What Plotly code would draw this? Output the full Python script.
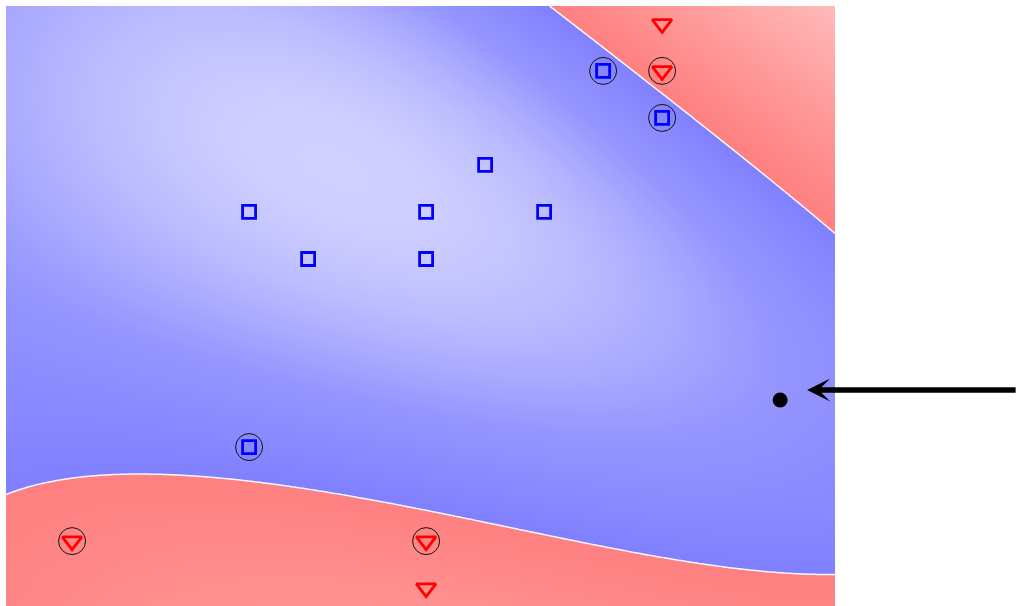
import numpy as np
import plotly.graph_objects as go

# training points (class +1 = blue squares, class -1 = red triangles)
blue_x = [1, -3, 0, 2, -2, 0]
blue_y = [2, 1, 1, 1, 0, 0]
red_x = [4, 0]
red_y = [5, -7]

# support vectors (circled)
sv_x = [3, 4, -3, 4, -6, 0]
sv_y = [4, 3, -4, 4, -6, -6]
sv_lab = [1, 1, 1, -1, -1, -1]

# query point
query_x = [6]
query_y = [-3]

gamma = 0.008

# RBF SVM on the support vectors: y_i * f(x_i) = 1, sum(alpha_i * y_i) = 0
P = np.c_[sv_x, sv_y].astype(float)
lab = np.array(sv_lab, float)
n = len(lab)
K = np.exp(-gamma * ((P[:, None, :] - P[None, :, :]) ** 2).sum(-1))
A = np.zeros((n + 1, n + 1))
A[:n, :n] = K * lab[None, :]
A[:n, n] = 1
A[n, :n] = lab
sol = np.linalg.solve(A, np.r_[lab, 0])
alpha, b = sol[:n], sol[n]

gx = np.linspace(-7.12, 6.93, 300)
gy = np.linspace(-7.38, 5.38, 240)
X, Y = np.meshgrid(gx, gy)
F = b + sum(alpha[i] * lab[i] * np.exp(-gamma * ((X - P[i, 0]) ** 2 + (Y - P[i, 1]) ** 2))
            for i in range(n))

fmin, fmax = F.min(), F.max()
p0 = -fmin / (fmax - fmin)
cscale = [[0, 'rgb(255,186,186)'], [p0, 'rgb(255,128,128)'],
          [p0, 'rgb(128,128,255)'], [p0 + 0.45 * (1 - p0), 'rgb(150,150,255)'],
          [1, 'rgb(209,209,255)']]

fig = go.Figure()
fig.add_trace(go.Heatmap(x=gx, y=gy, z=F, colorscale=cscale, zmin=fmin, zmax=fmax,
                         zsmooth='best', showscale=False, hoverinfo='skip'))
# decision boundary f = 0
fig.add_trace(go.Contour(x=gx, y=gy, z=F, contours=dict(start=0, end=0, size=1, coloring='none'),
                         line=dict(color='rgba(255,255,255,0.95)', width=1.5),
                         showscale=False, hoverinfo='skip'))

# circles round the support vectors
fig.add_trace(go.Scatter(x=sv_x, y=sv_y, mode='markers',
                         marker=dict(symbol='circle-open', size=27, color='#111',
                                     line=dict(width=1, color='#111'))))

sq_x = blue_x + [x for x, l in zip(sv_x, sv_lab) if l > 0]
sq_y = blue_y + [y for y, l in zip(sv_y, sv_lab) if l > 0]
tr_x = red_x + [x for x, l in zip(sv_x, sv_lab) if l < 0]
tr_y = red_y + [y for y, l in zip(sv_y, sv_lab) if l < 0]

fig.add_trace(go.Scatter(x=sq_x, y=sq_y, mode='markers',
                         marker=dict(symbol='square-open', size=13, color='#0000ff',
                                     line=dict(width=2.8, color='#0000ff'))))
fig.add_trace(go.Scatter(x=tr_x, y=tr_y, mode='markers',
                         marker=dict(symbol='triangle-down-open', size=17, color='#ff0000',
                                     line=dict(width=2.8, color='#ff0000'))))
fig.add_trace(go.Scatter(x=query_x, y=query_y, mode='markers',
                         marker=dict(symbol='circle', size=15, color='black')))

fig.add_annotation(x=query_x[0], y=query_y[0], xref='x', yref='y', xshift=27, yshift=10,
                   ax=210, ay=0, text='', showarrow=True, arrowhead=3,
                   arrowwidth=5.5, arrowsize=0.7, arrowcolor='black')

fig.update_xaxes(range=[-7.12, 6.93], visible=False, showgrid=False, zeroline=False)
fig.update_yaxes(range=[-7.38, 5.38], visible=False, showgrid=False, zeroline=False)
fig.update_layout(width=1016, height=606, showlegend=False,
                  margin=dict(l=6, r=181, t=6, b=0),
                  paper_bgcolor='white', plot_bgcolor='white')
fig.write_html("out.html", config={'displayModeBar': False},
               post_script="document.body.style.margin='0px';")
